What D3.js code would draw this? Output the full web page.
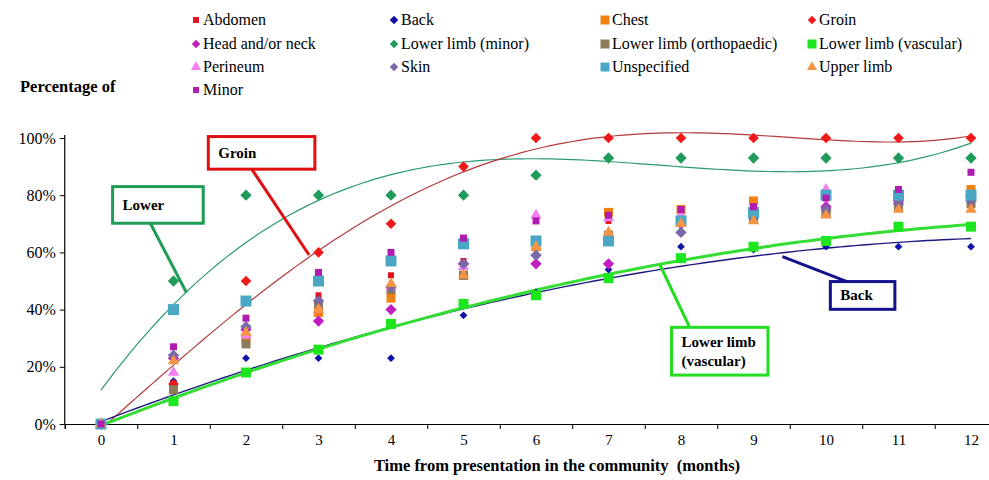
<!DOCTYPE html>
<html>
<head>
<meta charset="utf-8">
<script src="https://cdn.jsdelivr.net/npm/d3@7"></script>
<style>
  html, body { margin: 0; padding: 0; background: #fff; }
  svg { display: block; }
  svg text { fill: #000; }
</style>
</head>
<body>
<svg id="chart" width="989" height="480"></svg>
<script>
// ---------------- DATA ----------------
const months = [0, 1, 2, 3, 4, 5, 6, 7, 8, 9, 10, 11, 12];
const yTicks = [0, 20, 40, 60, 80, 100];

const abdomen      = [0, 13, 31, 45, 52, 57, 63, 71, 72, 73, 75, 81, 78];
const back         = [0, 15, 23, 23, 23, 38, 46, 54, 62, 61, 62, 62, 62];
const chest        = [0, 13, 30, 39, 44, 52, 62, 74, 75, 78, 74, 76, 82];
const groin        = [0, 14, 50, 60, 70, 90, 100, 100, 100, 100, 100, 100, 100];
const headNeck     = [0, 23, 33, 36, 40, 56, 56, 56, 70, 74, 76, 78, 80];
const limbMinor    = [0, 50, 80, 80, 80, 80, 87, 93, 93, 93, 93, 93, 93];
const limbOrtho    = [0, 12, 28, 42, 47, 52, 64, 66, 71, 72, 74, 76, 77];
const limbVascular = [0, 8, 18, 26, 35, 42, 45, 51, 58, 62, 64, 69, 69];
const perineum     = [0, 18, 31, 40, 48, 55, 73, 72, 73, 74, 82, 80, 80];
const skin         = [0, 24, 34, 43, 48, 56, 59, 65, 67, 72, 75, 77, 78];
const unspecified  = [0, 40, 43, 50, 57, 63, 64, 64, 71, 74, 80, 80, 80];
const upperLimb    = [0, 22, 32, 40, 49, 52, 62, 67, 70, 71, 73, 75, 75];
const minor        = [0, 27, 37, 53, 60, 65, 71, 73, 75, 76, 79, 82, 88];

const seriesNames = ["Abdomen", "Back", "Chest", "Groin", "Head and/or neck", "Lower limb (minor)",
  "Lower limb (orthopaedic)", "Lower limb (vascular)", "Perineum", "Skin", "Unspecified", "Upper limb", "Minor"];
const seriesValues = [abdomen, back, chest, groin, headNeck, limbMinor, limbOrtho, limbVascular,
  perineum, skin, unspecified, upperLimb, minor];

// trendlines: series name, polynomial order
const trendNames  = ["Lower limb (minor)", "Groin", "Back", "Lower limb (vascular)"];
const trendOrders = [3, 4, 2, 2];

// callouts
const calloutTexts = [["Lower"], ["Groin"], ["Back"], ["Lower limb", "(vascular)"]];

// ---------------- STYLE ----------------
const FONT = "'Liberation Serif', 'DejaVu Serif', 'Times New Roman', serif";
const markerStyle = {
  "Abdomen":                 {shape: "square",   size: 6,  color: "#e3121f"},
  "Back":                    {shape: "diamond",  size: 5.5,  color: "#1010a8"},
  "Chest":                   {shape: "square",   size: 9,  color: "#f08214"},
  "Groin":                   {shape: "diamond",  size: 7.5,  color: "#f01818"},
  "Head and/or neck":        {shape: "diamond",  size: 8,  color: "#c21fc2"},
  "Lower limb (minor)":      {shape: "diamond",  size: 8,  color: "#1f9c5a"},
  "Lower limb (orthopaedic)":{shape: "square",   size: 9,  color: "#8e7b57"},
  "Lower limb (vascular)":   {shape: "square",   size: 10, color: "#1ee61e"},
  "Perineum":                {shape: "triangle", size: 10, color: "#f27ef0"},
  "Skin":                    {shape: "diamond",  size: 8,  color: "#7a68a6"},
  "Unspecified":             {shape: "square",   size: 11, color: "#4aa8c4"},
  "Upper limb":              {shape: "triangle", size: 10, color: "#f59544"},
  "Minor":                   {shape: "square",   size: 7,  color: "#b01cb0"}
};
const trendStyle = {
  "Lower limb (minor)":    {color: "#2c9a70", width: 1.2},
  "Groin":                 {color: "#b23a3a", width: 1.2},
  "Back":                  {color: "#1c1c80", width: 1.4},
  "Lower limb (vascular)": {color: "#33dd33", width: 3}
};
// callout boxes in data units: [x0, x1, yTop, yBottom], leader [xa, ya, xb, yb]
const calloutGeom = [
  {box: [0.16, 1.41, 83.0, 70.2], leader: [0.68, 70.2, 1.18, 45.9], color: "#1f9c55"},
  {box: [1.48, 2.95, 100.5, 89.1], leader: [2.08, 89.1, 2.87, 59.1], color: "#e01010"},
  {box: [10.06, 10.95, 49.8, 40.1], leader: [10.29, 49.8, 9.40, 58.5], color: "#12128c"},
  {box: [7.87, 9.20, 33.8, 17.1], leader: [8.12, 33.8, 7.71, 55.6], color: "#22dd22"}
];

// ---------------- SCALES ----------------
const svg = d3.select("#chart");
const x = d3.scaleLinear().domain([-0.5, 12.5]).range([64.75, 64.75 + 13 * 72.5]);
const y = d3.scaleLinear().domain([0, 100]).range([424, 138]);

// ---------------- AXES ----------------
const yAxis = svg.append("g").attr("transform", `translate(${x(-0.5)},0)`)
  .call(d3.axisLeft(y).tickValues(yTicks).tickFormat(d => d + "%").tickSize(5).tickPadding(4));
yAxis.attr("font-family", FONT).attr("font-size", 16);
yAxis.select(".domain").attr("d", `M-0,${y(0)}V${y(100) - 3}`).attr("stroke", "#000").attr("stroke-width", 1.2);

const xAxisTicks = svg.append("g").attr("transform", `translate(0,${y(0)})`)
  .call(d3.axisBottom(x).tickValues(d3.range(-0.5, 13, 1)).tickFormat("").tickSize(5));
xAxisTicks.select(".domain").attr("stroke-width", 1.2);
const xAxisLabels = svg.append("g").attr("transform", `translate(0,${y(0)})`)
  .call(d3.axisBottom(x).tickValues(months).tickFormat(d3.format("d")).tickSize(0).tickPadding(10));
xAxisLabels.attr("font-family", FONT).attr("font-size", 15);
xAxisLabels.select(".domain").remove();

// axis titles
svg.append("text").attr("x", 20).attr("y", 92).attr("font-family", FONT).attr("font-size", 16.5).attr("font-weight", "bold")
  .text("Percentage of");
svg.append("text").attr("x", 557).attr("y", 471).attr("text-anchor", "middle")
  .attr("font-family", FONT).attr("font-size", 16.5).attr("font-weight", "bold")
  .text("Time from presentation in the community \u00a0(months)");

// ---------------- MARKERS ----------------
function markerPath(style) {
  const s = style.size;
  if (style.shape === "square") return d3.symbol(d3.symbolSquare, s * s)();
  if (style.shape === "diamond") return d3.symbol(d3.symbolSquare, s * s)();
  if (style.shape === "triangle") return d3.symbol(d3.symbolTriangle, s * s * 0.55)();
}
function markerRot(style) { return style.shape === "diamond" ? " rotate(45)" : ""; }

// trendlines (least squares polynomial)
function polyfit(xs, ys, order) {
  const n = order + 1;
  const A = Array.from({length: n}, () => new Array(n + 1).fill(0));
  for (let i = 0; i < xs.length; i++) {
    for (let r = 0; r < n; r++) {
      for (let c = 0; c < n; c++) A[r][c] += Math.pow(xs[i], r + c);
      A[r][n] += ys[i] * Math.pow(xs[i], r);
    }
  }
  for (let p = 0; p < n; p++) {
    let m = p;
    for (let r = p + 1; r < n; r++) if (Math.abs(A[r][p]) > Math.abs(A[m][p])) m = r;
    [A[p], A[m]] = [A[m], A[p]];
    for (let r = 0; r < n; r++) {
      if (r === p) continue;
      const f = A[r][p] / A[p][p];
      for (let c = p; c <= n; c++) A[r][c] -= f * A[p][c];
    }
  }
  return A.map((row, i) => row[n] / row[i]);
}

const gTrend = svg.append("g");
trendNames.forEach((name, k) => {
  const vals = seriesValues[seriesNames.indexOf(name)];
  const coef = polyfit(months, vals, trendOrders[k]);
  const f = t => coef.reduce((s, c, i) => s + c * Math.pow(t, i), 0);
  const pts = d3.range(0, 12.001, 0.1).map(t => [t, f(t)]);
  const st = trendStyle[name];
  gTrend.append("path").datum(pts)
    .attr("d", d3.line().x(d => x(d[0])).y(d => y(d[1])))
    .attr("fill", "none").attr("stroke", st.color).attr("stroke-width", st.width);
});

const gPts = svg.append("g");
seriesNames.forEach((name, si) => {
  const st = markerStyle[name];
  gPts.append("g").selectAll("path").data(seriesValues[si]).join("path")
    .attr("d", markerPath(st))
    .attr("transform", (d, i) => `translate(${x(months[i])},${y(d)})${markerRot(st)}`)
    .attr("fill", st.color);
});

// ---------------- CALLOUTS ----------------
const gCall = svg.append("g");
calloutGeom.forEach((c, i) => {
  const [x0, x1, yt, yb] = c.box;
  const [xa, ya, xb, yb2] = c.leader;
  gCall.append("line").attr("x1", x(xa)).attr("y1", y(ya)).attr("x2", x(xb)).attr("y2", y(yb2))
    .attr("stroke", c.color).attr("stroke-width", 3);
  gCall.append("rect").attr("x", x(x0)).attr("y", y(yt)).attr("width", x(x1) - x(x0)).attr("height", y(yb) - y(yt))
    .attr("fill", "#fff").attr("stroke", c.color).attr("stroke-width", 3);
  const lines = calloutTexts[i];
  const cx = x(x0) + 10;
  lines.forEach((t, j) => {
    gCall.append("text").attr("x", cx)
      .attr("y", lines.length > 1 ? y(yt) + 20 + j * 19 : (y(yt) + y(yb)) / 2 + 5)
      .attr("font-family", FONT).attr("font-size", 15).attr("font-weight", "bold").text(t);
  });
});

// ---------------- LEGEND ----------------
const legX = [196, 394, 605, 812];
const legY = [20, 44, 67, 90];
const gLeg = svg.append("g");
seriesNames.forEach((name, i) => {
  const st = markerStyle[name];
  const col = i % 4, row = Math.floor(i / 4);
  const lx = legX[col], ly = legY[row];
  const ls = Object.assign({}, st, {size: st.shape === "triangle" ? 9 : (st.shape === "diamond" ? 6 : (st.size > 8 ? 9 : 6))});
  gLeg.append("path").attr("d", markerPath(ls))
    .attr("transform", `translate(${lx},${ly})${markerRot(ls)}`).attr("fill", st.color);
  gLeg.append("text").attr("x", lx + 7).attr("y", ly + 5)
    .attr("font-family", FONT).attr("font-size", 16).text(name);
});
</script>
</body>
</html>
